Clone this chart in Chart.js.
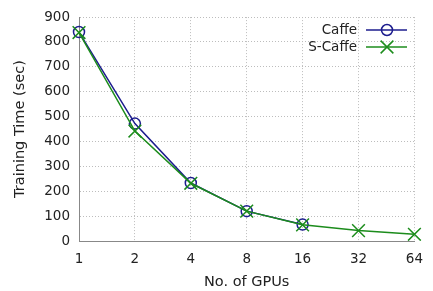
<!DOCTYPE html>
<html>
<head>
  <title>Training Time vs GPUs</title>
  <script src="https://cdn.jsdelivr.net/npm/chart.js"></script>
  <style>
    body { margin: 0; background: #fff; }
    #wrap { width: 433px; height: 291px; }
  </style>
</head>
<body>
  <div id="wrap"><canvas id="timeChart" width="433" height="291"></canvas></div>
  <script>
    const gpus = ['1', '2', '4', '8', '16', '32', '64'];
    const caffe = [840, 472, 233, 120, 66, null, null];
    const sCaffe = [838, 442, 232, 120, 65, 42, 27];
    const yTicks = [0, 100, 200, 300, 400, 500, 600, 700, 800, 900];

    const blue = '#1c1c8e';
    const green = '#1c8c1c';
    const font = 'DejaVu Sans';

    // gnuplot style key: text on the left, line sample + marker on the right
    const keyPlugin = {
      id: 'key',
      afterDraw(chart) {
        const ctx = chart.ctx;
        const items = [
          { label: 'Caffe', color: blue, style: 'circle', radius: 5.5, y: 30 },
          { label: 'S-Caffe', color: green, style: 'crossRot', radius: 9, y: 47 }
        ];
        ctx.save();
        ctx.font = '13.5px "' + font + '"';
        ctx.textAlign = 'right';
        ctx.textBaseline = 'middle';
        items.forEach(it => {
          ctx.fillStyle = '#222';
          ctx.fillText(it.label, 357, it.y);
          ctx.strokeStyle = it.color;
          ctx.lineWidth = 1.5;
          ctx.beginPath();
          ctx.moveTo(366, it.y);
          ctx.lineTo(407, it.y);
          ctx.stroke();
          ctx.fillStyle = 'rgba(0,0,0,0)';
          Chart.helpers.drawPoint(ctx, {
            pointStyle: it.style, radius: it.radius, borderWidth: 1.5, rotation: 0
          }, 387, it.y);
        });
        ctx.restore();
      }
    };

    new Chart(document.getElementById('timeChart'), {
      type: 'line',
      data: {
        labels: gpus,
        datasets: [
          {
            label: 'Caffe',
            data: caffe,
            order: 1,
            borderColor: blue,
            backgroundColor: 'rgba(0,0,0,0)',
            borderWidth: 1.5,
            pointStyle: 'circle',
            pointRadius: 5.5,
            pointBorderWidth: 1.5,
            pointBorderColor: blue,
            tension: 0
          },
          {
            label: 'S-Caffe',
            data: sCaffe,
            order: 0,
            borderColor: green,
            backgroundColor: 'rgba(0,0,0,0)',
            borderWidth: 1.5,
            pointStyle: 'crossRot',
            pointRadius: 9,
            pointBorderWidth: 1.5,
            pointBorderColor: green,
            tension: 0
          }
        ]
      },
      options: {
        responsive: false,
        animation: false,
        layout: { padding: { top: 15, right: 11, left: 0, bottom: 0 } },
        plugins: {
          legend: { display: false },
          tooltip: { enabled: false }
        },
        scales: {
          x: {
            type: 'category',
            offset: false,
            grid: { color: '#bdbdbd', drawTicks: false },
            border: { color: '#888', width: 1, dash: [1, 2] },
            ticks: { color: '#222', font: { family: font, size: 13.5 }, padding: 10, maxRotation: 0 },
            title: { display: true, text: 'No. of GPUs', color: '#222', font: { family: font, size: 14.5 }, padding: { top: 5, bottom: 0 } },
            afterFit(scale) { scale.height = 50; }
          },
          y: {
            min: 0,
            max: 900,
            afterBuildTicks(scale) { scale.ticks = yTicks.map(v => ({ value: v })); },
            grid: { color: '#bdbdbd', drawTicks: false },
            border: { color: '#888', width: 1, dash: [1, 2] },
            ticks: { color: '#222', font: { family: font, size: 13.5 }, padding: 9 },
            title: { display: true, text: 'Training Time (sec)', color: '#222', font: { family: font, size: 14.5 }, padding: { top: 12, bottom: 0 } },
            afterFit(scale) { scale.width = 79; }
          }
        }
      },
      plugins: [keyPlugin]
    });
  </script>
</body>
</html>
